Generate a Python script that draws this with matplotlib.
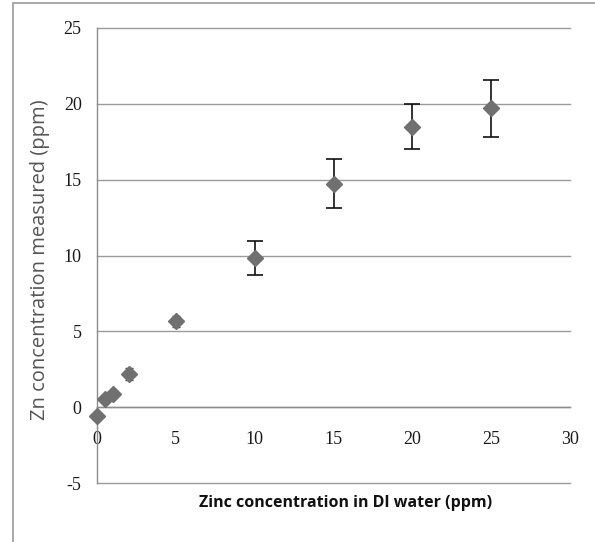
import matplotlib
matplotlib.use("Agg")
import matplotlib.pyplot as plt
from matplotlib.patches import Rectangle

plt.rcParams["axes.unicode_minus"] = False

# Data
zinc_added = [0, 0.5, 1, 2, 5, 10, 15, 20, 25]
zn_measured = [-0.55, 0.55, 0.85, 2.2, 5.65, 9.85, 14.7, 18.45, 19.7]
err_low = [0.1, 0.1, 0.1, 0.38, 0.38, 1.15, 1.6, 1.45, 1.9]
err_high = [0.1, 0.1, 0.1, 0.38, 0.38, 1.1, 1.65, 1.55, 1.9]
x_ticks = [0, 5, 10, 15, 20, 25, 30]
y_ticks = [-5, 0, 5, 10, 15, 20, 25]
x_label = "Zinc concentration in DI water (ppm)"
y_label = "Zn concentration measured (ppm)"

fig = plt.figure(figsize=(5.95, 5.42), dpi=100)
fig.patches.append(Rectangle((13/595, -0.05), 1.0, 1 - 3/542 + 0.05,
                             transform=fig.transFigure, fill=False,
                             edgecolor="#9a9a9a", linewidth=1.2))
ax = fig.add_axes([97/595, 1 - 483/542, (570 - 97)/595, (483 - 28)/542])
ax.set_xlim(0, 30)
ax.set_ylim(-5, 25)

for s in ["top", "right"]:
    ax.spines[s].set_visible(False)
ax.spines["bottom"].set_position(("data", 0))
ax.spines["bottom"].set_color("#8c8c8c")
ax.spines["left"].set_color("#8c8c8c")
ax.spines["bottom"].set_linewidth(1.0)
ax.spines["left"].set_linewidth(1.0)

ax.set_yticks(y_ticks)
ax.set_xticks(x_ticks)
for yv in y_ticks:
    ax.axhline(yv, color="#9a9a9a", linewidth=1.0, zorder=0, clip_on=False)
ax.tick_params(axis="both", length=0, labelsize=13)
ax.tick_params(axis="x", pad=17)
ax.tick_params(axis="y", pad=11)
for lbl in ax.get_xticklabels() + ax.get_yticklabels():
    lbl.set_fontfamily("Liberation Serif")
    lbl.set_color("#1a1a1a")

# small-error points (caps mostly hidden behind markers) and larger-error points
n_small = 5
ax.errorbar(zinc_added[:n_small], zn_measured[:n_small],
            yerr=[err_low[:n_small], err_high[:n_small]], fmt="D",
            color="#707070", markersize=8.5, markeredgecolor="#707070",
            ecolor="#444444", elinewidth=1.0, capsize=3, capthick=1.0,
            zorder=3, clip_on=False)
ax.errorbar(zinc_added[n_small:], zn_measured[n_small:],
            yerr=[err_low[n_small:], err_high[n_small:]], fmt="D",
            color="#707070", markersize=8.5, markeredgecolor="#707070",
            ecolor="#111111", elinewidth=1.2, capsize=6, capthick=1.2,
            zorder=3, clip_on=False)

fig.text(346/595, 1 - 503/542, x_label, ha="center", va="center",
         fontsize=11.5, fontweight="bold", family="Open Sans", color="#111111")
fig.text(40/595, 1 - 260/542, y_label, ha="center", va="center",
         rotation=90, fontsize=14.5, family="Open Sans", color="#555555")

fig.savefig("out.png", dpi=100)
